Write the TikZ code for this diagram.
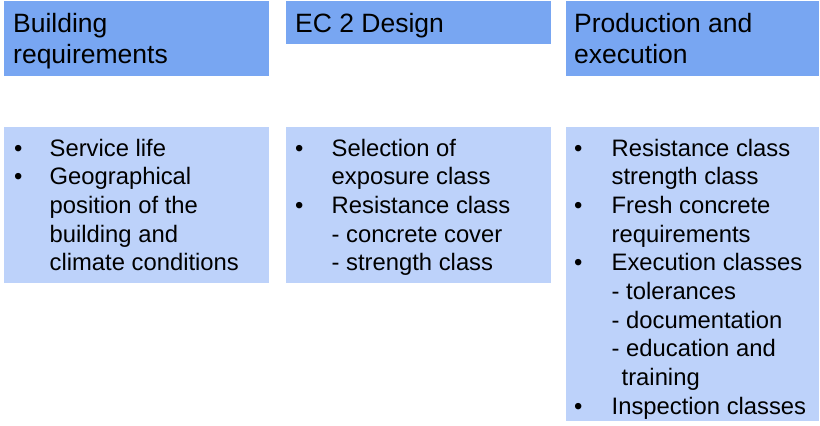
\documentclass[tikz,border=0pt]{standalone}
\usepackage{fontspec}
\setmainfont{Liberation Sans}
\definecolor{headblue}{HTML}{78A6F2}
\definecolor{bodyblue}{HTML}{BDD2FA}
\begin{document}
\begin{tikzpicture}[x=1pt,y=-1pt,
  headbox/.style={fill=headblue,draw=none},
  bodybox/.style={fill=bodyblue,draw=none},
  headtxt/.style={anchor=base west,inner sep=0pt,font=\fontsize{26.5}{31}\selectfont},
  itemtxt/.style={anchor=base west,inner sep=0pt,font=\fontsize{23.8}{28.7}\selectfont}]
\useasboundingbox (0,0) rectangle (820,426);
% boxes
\fill[headbox] (4,1) rectangle (269,76);
\fill[headbox] (286,1) rectangle (551,44);
\fill[headbox] (566,1) rectangle (819,76);
\fill[bodybox] (4,127) rectangle (269,283);
\fill[bodybox] (286,127) rectangle (551,283);
\fill[bodybox] (566,127) rectangle (819,421);
% headers
\node[headtxt] (h1a) at (13,32) {Building};
\node[headtxt] (h1b) at (13,63) {requirements};
\node[headtxt] (h2a) at (295,32) {EC 2 Design};
\node[headtxt] (h3a) at (574,32) {Production and};
\node[headtxt] (h3b) at (574,63) {execution};
% column 1
\node[itemtxt] (b1a) at (14,156) {•};
\node[itemtxt] (t1a) at (49.5,156) {Service life};
\node[itemtxt] (b1b) at (14,184.7) {•};
\node[itemtxt] (t1b) at (49.5,184.7) {Geographical};
\node[itemtxt] (t1c) at (49.5,213.4) {position of the};
\node[itemtxt] (t1d) at (49.5,242.1) {building and};
\node[itemtxt] (t1e) at (49.5,270.8) {climate conditions};
% column 2
\node[itemtxt] (b2a) at (295,156) {•};
\node[itemtxt] (t2a) at (331.5,156) {Selection of};
\node[itemtxt] (t2b) at (331.5,184.7) {exposure class};
\node[itemtxt] (b2c) at (295,213.4) {•};
\node[itemtxt] (t2c) at (331.5,213.4) {Resistance class};
\node[itemtxt] (t2d) at (331.5,242.1) {- concrete cover};
\node[itemtxt] (t2e) at (331.5,270.8) {- strength class};
% column 3
\node[itemtxt] (b3a) at (574,156) {•};
\node[itemtxt] (t3a) at (611.5,156) {Resistance class};
\node[itemtxt] (t3b) at (611.5,184.7) {strength class};
\node[itemtxt] (b3c) at (574,213.4) {•};
\node[itemtxt] (t3c) at (611.5,213.4) {Fresh concrete};
\node[itemtxt] (t3d) at (611.5,242.1) {requirements};
\node[itemtxt] (b3e) at (574,270.8) {•};
\node[itemtxt] (t3e) at (611.5,270.8) {Execution classes};
\node[itemtxt] (t3f) at (611.5,299.5) {- tolerances};
\node[itemtxt] (t3g) at (611.5,328.2) {- documentation};
\node[itemtxt] (t3h) at (611.5,356.9) {- education and};
\node[itemtxt] (t3i) at (621.5,385.6) {training};
\node[itemtxt] (b3j) at (574,414.3) {•};
\node[itemtxt] (t3j) at (611.5,414.3) {Inspection classes};
\end{tikzpicture}
\end{document}
